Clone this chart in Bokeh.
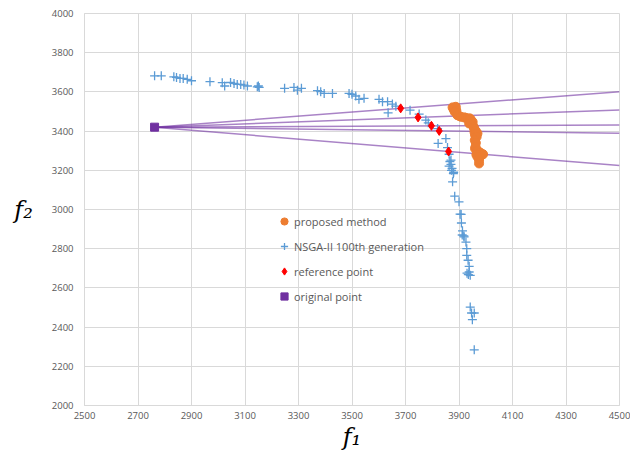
from bokeh.plotting import figure
from bokeh.models import Legend, LegendItem, FixedTicker, Range1d
from bokeh.embed import file_html
from bokeh.resources import INLINE

# ---- data ----
proposed_f1 = [3876, 3888, 3880, 3890, 3884, 3894, 3900, 3907, 3919, 3925, 3932, 3940, 3944,
               3951, 3938, 3951, 3955, 3957, 3958, 3963, 3960, 3969, 3966, 3959, 3963, 3960,
               3962, 3969, 3970, 3975, 3980, 3984, 3990, 3965, 3969, 3975, 3975]
proposed_f2 = [3521, 3524, 3510, 3505, 3498, 3481, 3478, 3473, 3470, 3468, 3464, 3465, 3459,
               3447, 3439, 3430, 3420, 3413, 3395, 3401, 3380, 3388, 3371, 3354, 3340, 3311,
               3320, 3294, 3300, 3286, 3290, 3277, 3282, 3280, 3269, 3252, 3235]

nsga_f1 = [2762, 2787, 2834, 2844, 2857, 2869, 2884, 2900, 2969, 3015, 3024, 3046, 3059, 3071,
           3084, 3096, 3109, 3146, 3150, 3153, 3248, 3283, 3296, 3311, 3371, 3383, 3396, 3427,
           3489, 3500, 3514, 3526, 3545, 3601, 3614, 3633, 3651, 3664, 3635, 3717, 3751, 3776,
           3785, 3820, 3851, 3822, 3857, 3863, 3866, 3870, 3870, 3863, 3874, 3872, 3880, 3879,
           3876, 3884, 3900, 3904, 3908, 3909, 3913, 3912, 3918, 3919, 3926, 3929, 3929, 3934,
           3938, 3930, 3938, 3935, 3942, 3942, 3947, 3957, 3950, 3957]
nsga_f2 = [3682, 3682, 3677, 3674, 3669, 3669, 3664, 3657, 3652, 3647, 3630, 3648, 3643, 3638,
           3638, 3635, 3630, 3626, 3630, 3623, 3618, 3623, 3609, 3618, 3606, 3601, 3592, 3592,
           3592, 3588, 3579, 3562, 3567, 3562, 3550, 3550, 3538, 3527, 3493, 3507, 3487, 3456,
           3442, 3413, 3362, 3337, 3316, 3282, 3245, 3252, 3230, 3221, 3210, 3200, 3190, 3183,
           3141, 3068, 3039, 2976, 2975, 2931, 2891, 2870, 2865, 2860, 2834, 2800, 2766, 2741,
           2710, 2675, 2681, 2668, 2664, 2502, 2472, 2472, 2438, 2284]

ref_f1 = [3682, 3747, 3797, 3826, 3861]
ref_f2 = [3516, 3470, 3427, 3401, 3296]

orig_f1 = [2762]
orig_f2 = [3420]

X_MIN, X_MAX, Y_MIN, Y_MAX, STEP = 2500, 4500, 2000, 4000, 200
x_ticks = list(range(X_MIN, X_MAX + 1, STEP))
y_ticks = list(range(Y_MIN, Y_MAX + 1, STEP))

# lines from the original point through each reference point, to the right edge
line_x0 = [orig_f1[0]] * len(ref_f1)
line_y0 = [orig_f2[0]] * len(ref_f1)
line_x1 = [X_MAX] * len(ref_f1)
line_y1 = [orig_f2[0] + (ry - orig_f2[0]) * (X_MAX - orig_f1[0]) / (rx - orig_f1[0])
           for rx, ry in zip(ref_f1, ref_f2)]

GRID = "#d9d9d9"
TXT = "#595959"

p = figure(width=630, height=455, x_range=Range1d(X_MIN, X_MAX), y_range=Range1d(Y_MIN, Y_MAX),
           output_backend="svg", toolbar_location=None,
           min_border_left=84, min_border_right=11, min_border_top=13, min_border_bottom=50)
p.background_fill_color = "white"
p.border_fill_color = "white"
p.outline_line_color = GRID
p.outline_line_width = 1

p.xaxis.ticker = FixedTicker(ticks=x_ticks)
p.yaxis.ticker = FixedTicker(ticks=y_ticks)
p.xgrid.ticker = FixedTicker(ticks=x_ticks)
p.ygrid.ticker = FixedTicker(ticks=y_ticks)
for ax in (p.xaxis[0], p.yaxis[0]):
    ax.axis_line_color = GRID
    ax.major_tick_line_color = None
    ax.minor_tick_line_color = None
    ax.major_tick_in = 0
    ax.major_tick_out = 0
    ax.major_label_text_font = "Open Sans"
    ax.major_label_text_font_size = "9.5px"
    ax.major_label_text_color = TXT
    ax.axis_label_text_font = "DejaVu Serif"
    ax.axis_label_text_font_style = "italic"
    ax.axis_label_text_font_size = "24px"
    ax.axis_label_text_color = "black"
p.xaxis.major_label_standoff = 6
p.yaxis.major_label_standoff = 11
p.xaxis.axis_label = "f₁"
p.yaxis.axis_label = "f₂"
p.xaxis.axis_label_standoff = 1
p.yaxis.axis_label_standoff = 16
p.yaxis.axis_label_orientation = "horizontal"

p.grid.grid_line_color = GRID
p.grid.grid_line_width = 1

p.segment(line_x0, line_y0, line_x1, line_y1, line_color="#7030A0", line_alpha=0.6, line_width=1.5)

r_nsga = p.scatter(nsga_f1, nsga_f2, marker="cross", size=9, line_color="#5B9BD5", line_width=1.3)
r_prop = p.scatter(proposed_f1, proposed_f2, marker="circle", size=9, fill_color="#ED7D31",
                   line_color="#ED7D31")
r_ref = p.scatter(ref_f1, ref_f2, marker="diamond", size=9, fill_color="#FF0000", line_color="#FF0000")
r_orig = p.scatter(orig_f1, orig_f2, marker="square", size=8, fill_color="#7030A0", line_color="#7030A0")

legend = Legend(items=[
    LegendItem(label="proposed method", renderers=[r_prop]),
    LegendItem(label="NSGA-II 100th generation", renderers=[r_nsga]),
    LegendItem(label="reference point", renderers=[r_ref]),
    LegendItem(label="original point", renderers=[r_orig]),
], location=(191, 99))
legend.label_text_font = "Open Sans"
legend.label_text_font_size = "11px"
legend.label_text_color = TXT
legend.background_fill_alpha = 0
legend.border_line_alpha = 0
legend.padding = 0
legend.margin = 0
legend.spacing = 5
legend.glyph_width = 18
legend.glyph_height = 20
legend.label_height = 20
legend.label_standoff = 1
p.add_layout(legend)

open("out.html", "w").write(file_html(p, INLINE))
